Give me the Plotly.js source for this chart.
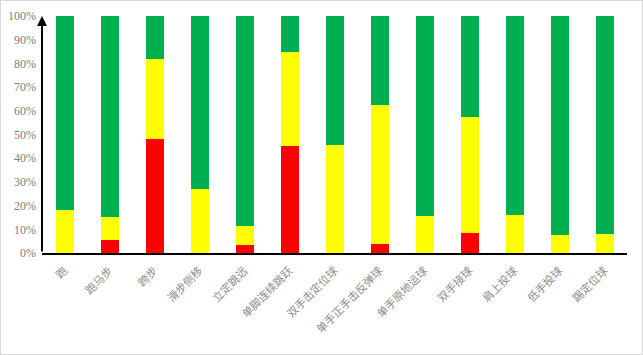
<!DOCTYPE html>
<html><head><meta charset="utf-8">
<script src="https://cdn.plot.ly/plotly-3.0.1.min.js"></script>
<style>
html,body{margin:0;padding:0;background:#fff;}
#wrap{width:643px;height:355px;box-sizing:border-box;border:1px solid #d9d9d9;}
#chart{width:641px;height:353px;}
</style></head>
<body><div id="wrap"><div id="chart"></div></div>
<script>
const categories = ["跑","跑马步","跨步","滑步侧移","立定跳远","单脚连续跳跃","双手击定位球","单手正手击反弹球","单手原地运球","双手接球","肩上投球","低手投球","踢定位球"];
const redValues = [0, 5.5, 48, 0, 3.5, 45, 0, 4, 0, 8.5, 0, 0, 0];
const yellowValues = [18, 9.5, 34, 27, 8, 40, 45.5, 58.5, 15.5, 49, 16, 7.5, 8];
const greenValues = [82, 85, 18, 73, 88.5, 15, 54.5, 37.5, 84.5, 42.5, 84, 92.5, 92];
const yTicks = [0,10,20,30,40,50,60,70,80,90,100];

const mk = (vals, color) => ({type:'bar', x:categories, y:vals, marker:{color:color, line:{width:0}}, width:0.4, hoverinfo:'skip'});
const data = [mk(redValues,'#FF0000'), mk(yellowValues,'#FFFF00'), mk(greenValues,'#00B050')];

const layout = {
  width:641, height:353,
  margin:{l:41, r:15, t:15, b:101},
  barmode:'stack', showlegend:false,
  paper_bgcolor:'#fff', plot_bgcolor:'#fff',
  xaxis:{type:'category', tickangle:-45, showline:true, linecolor:'#000', linewidth:2, showgrid:false, ticks:'',
    ticklabelstandoff:5,
    tickfont:{family:'Noto Sans CJK SC', size:11, color:'#8c8c8c'}, range:[-0.5,12.5], fixedrange:true},
  yaxis:{range:[0,100], tickvals:yTicks, ticktext:yTicks.map(v=>v+'%'), showgrid:false, zeroline:false, showline:false, ticks:'',
    ticklabelstandoff:5,
    tickfont:{family:'Liberation Serif', size:12, color:'#808080'}, fixedrange:true},
  annotations:[{x:-0.5, y:100, xref:'x', yref:'y', ax:-0.5, ay:0, axref:'x', ayref:'y', showarrow:true,
    arrowhead:2, arrowsize:1, arrowwidth:2, arrowcolor:'#000', text:''}]
};
Plotly.newPlot('chart', data, layout, {displayModeBar:false, staticPlot:true});
</script></body></html>
